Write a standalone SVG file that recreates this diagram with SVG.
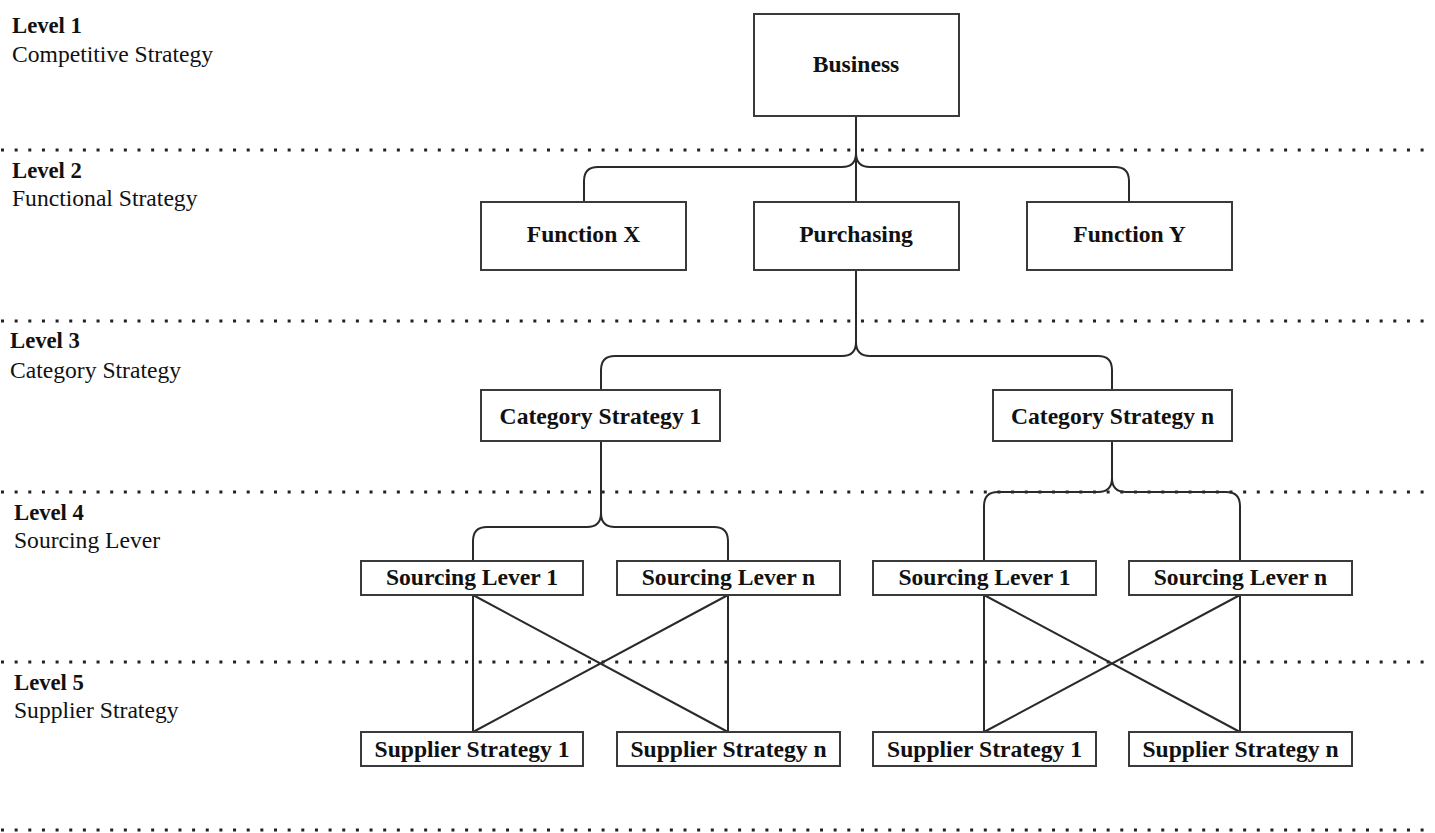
<svg xmlns="http://www.w3.org/2000/svg" width="1435" height="833" viewBox="0 0 1435 833">
  <style>
    .bg { fill: #ffffff; }
    .sep { stroke: #222; stroke-width: 3; stroke-dasharray: 3 10.65; fill: none; }
    .box { fill: #ffffff; stroke: #3a3a3a; stroke-width: 2; }
    .wire { fill: none; stroke: #2a2a2a; stroke-width: 2; }
    .lvl { font-family: "Liberation Serif", "Times New Roman", serif; font-size: 22.7px; font-weight: bold; fill: #111; }
    .lvlsub { font-family: "Liberation Serif", "Times New Roman", serif; font-size: 23.6px; fill: #111; }
    .label { font-family: "Liberation Serif", "Times New Roman", serif; font-size: 23.6px; font-weight: bold; fill: #111; text-anchor: middle; }
  </style>

  <rect class="bg" x="0" y="0" width="1435" height="833"/>

  <!-- level separators -->
  <g id="separators">
    <line class="sep" x1="1" y1="150" x2="1428" y2="150"/>
    <line class="sep" x1="1" y1="321" x2="1428" y2="321"/>
    <line class="sep" x1="1" y1="492" x2="1428" y2="492"/>
    <line class="sep" x1="1" y1="662" x2="1428" y2="662"/>
    <line class="sep" x1="1" y1="830" x2="1428" y2="830"/>
  </g>

  <!-- level captions -->
  <g id="level-captions">
    <text class="lvl" x="12" y="33">Level 1</text>
    <text class="lvlsub" x="12" y="62">Competitive Strategy</text>
    <text class="lvl" x="12" y="178">Level 2</text>
    <text class="lvlsub" x="12" y="206">Functional Strategy</text>
    <text class="lvl" x="10" y="348">Level 3</text>
    <text class="lvlsub" x="10" y="378">Category Strategy</text>
    <text class="lvl" x="14" y="520">Level 4</text>
    <text class="lvlsub" x="14" y="548">Sourcing Lever</text>
    <text class="lvl" x="14" y="690">Level 5</text>
    <text class="lvlsub" x="14" y="718">Supplier Strategy</text>
  </g>

  <!-- connectors -->
  <g id="connectors">
    <!-- Business to functions -->
    <path class="wire" d="M856 116 V202"/>
    <path class="wire" d="M856 153 Q856 167 842 167 H598 Q584 167 584 181 V202"/>
    <path class="wire" d="M856 153 Q856 167 870 167 H1115 Q1129 167 1129 181 V202"/>
    <!-- Purchasing to category strategies -->
    <path class="wire" d="M856 270 V342 Q856 356 842 356 H615 Q601 356 601 370 V390"/>
    <path class="wire" d="M856 342 Q856 356 870 356 H1098 Q1112 356 1112 370 V390"/>
    <!-- Category Strategy 1 to sourcing levers -->
    <path class="wire" d="M601 441 V513 Q601 527 587 527 H487 Q473 527 473 541 V561"/>
    <path class="wire" d="M601 513 Q601 527 615 527 H714 Q728 527 728 541 V561"/>
    <!-- Category Strategy n to sourcing levers -->
    <path class="wire" d="M1112 441 V478 Q1112 492 1098 492 H998 Q984 492 984 506 V561"/>
    <path class="wire" d="M1112 478 Q1112 492 1126 492 H1226 Q1240 492 1240 506 V561"/>
    <!-- sourcing levers to supplier strategies, left group -->
    <path class="wire" d="M473 595 V732 M728 595 V732 M473 595 L728 732 M728 595 L473 732"/>
    <!-- sourcing levers to supplier strategies, right group -->
    <path class="wire" d="M984 595 V732 M1240 595 V732 M984 595 L1240 732 M1240 595 L984 732"/>
  </g>

  <g id="business">
    <rect class="box" x="754" y="14" width="205" height="102"/>
    <text class="label" x="856" y="72">Business</text>
  </g>

  <g id="function-x">
    <rect class="box" x="481" y="202" width="205" height="68"/>
    <text class="label" x="583.5" y="242">Function X</text>
  </g>
  <g id="purchasing">
    <rect class="box" x="754" y="202" width="205" height="68"/>
    <text class="label" x="856" y="242">Purchasing</text>
  </g>
  <g id="function-y">
    <rect class="box" x="1027" y="202" width="205" height="68"/>
    <text class="label" x="1129.5" y="242">Function Y</text>
  </g>

  <g id="category-1">
    <rect class="box" x="481" y="390" width="239" height="51"/>
    <text class="label" x="600.5" y="424">Category Strategy 1</text>
  </g>
  <g id="category-n">
    <rect class="box" x="993" y="390" width="239" height="51"/>
    <text class="label" x="1112.5" y="424">Category Strategy n</text>
  </g>

  <g id="lever-a1">
    <rect class="box" x="361" y="561" width="222" height="34"/>
    <text class="label" x="472" y="585">Sourcing Lever 1</text>
  </g>
  <g id="lever-an">
    <rect class="box" x="617" y="561" width="223" height="34"/>
    <text class="label" x="728.5" y="585">Sourcing Lever n</text>
  </g>
  <g id="lever-b1">
    <rect class="box" x="873" y="561" width="223" height="34"/>
    <text class="label" x="984.5" y="585">Sourcing Lever 1</text>
  </g>
  <g id="lever-bn">
    <rect class="box" x="1129" y="561" width="223" height="34"/>
    <text class="label" x="1240.5" y="585">Sourcing Lever n</text>
  </g>

  <g id="supplier-a1">
    <rect class="box" x="361" y="732" width="222" height="34"/>
    <text class="label" x="472" y="757">Supplier Strategy 1</text>
  </g>
  <g id="supplier-an">
    <rect class="box" x="617" y="732" width="223" height="34"/>
    <text class="label" x="728.5" y="757">Supplier Strategy n</text>
  </g>
  <g id="supplier-b1">
    <rect class="box" x="873" y="732" width="223" height="34"/>
    <text class="label" x="984.5" y="757">Supplier Strategy 1</text>
  </g>
  <g id="supplier-bn">
    <rect class="box" x="1129" y="732" width="223" height="34"/>
    <text class="label" x="1240.5" y="757">Supplier Strategy n</text>
  </g>
</svg>
